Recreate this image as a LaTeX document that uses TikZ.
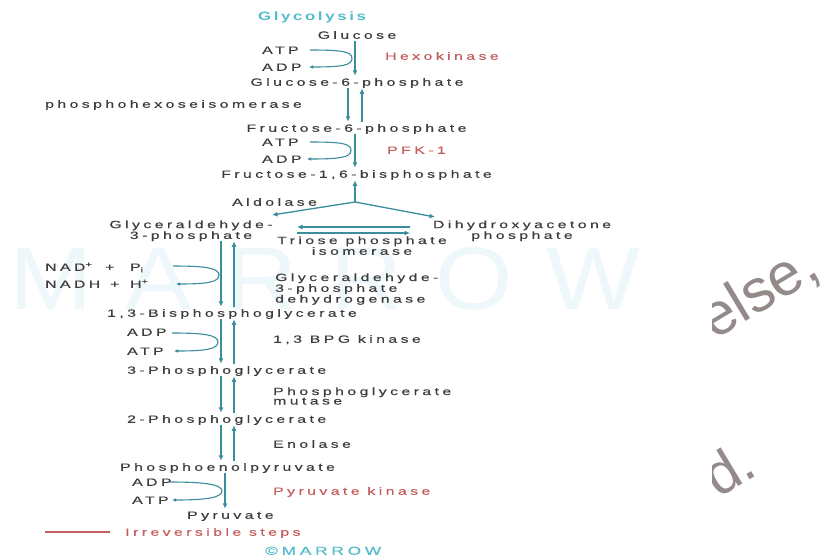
\documentclass[tikz,border=0pt]{standalone}
\usepackage{fontspec}
\usepackage{graphicx}
\setmainfont{Liberation Sans}[FakeStretch=1.5,LetterSpace=33,FakeBold=0.4]
\newfontfamily\titlefont{Liberation Sans}[FakeStretch=1.4,LetterSpace=22]
\newfontfamily\markfont{Liberation Sans}[FakeStretch=1.2,LetterSpace=40]
\newfontfamily\stampfont{Liberation Sans}
\usetikzlibrary{arrows.meta}
\definecolor{pathway}{HTML}{3A8D9B}
\definecolor{titleteal}{HTML}{55BCCB}
\definecolor{enzred}{HTML}{C45E5E}
\definecolor{ink}{HTML}{3D3D3D}
\definecolor{wm}{HTML}{EEF7FA}
\definecolor{stamp}{HTML}{958A8A}

\begin{document}
\begin{tikzpicture}[x=1pt,y=-1pt,
  every node/.style={inner sep=0pt},
  met/.style={text=ink,font=\fontsize{10.5}{10}\selectfont,
    text height=7.5pt,text depth=0pt,inner ysep=2.3pt},
  multi/.style={text=ink,font=\fontsize{10.5}{9.5}\selectfont,align=center},
  multil/.style={text=ink,font=\fontsize{10.5}{9.5}\selectfont,align=left},
  irrev/.style={met,text=enzred},
  flow/.style={draw=pathway,line width=1.8pt,-{Latex[length=5.5pt,width=5pt]}},
  thinflow/.style={flow,line width=1.3pt},
  cofac/.style={draw=pathway,line width=1.1pt,-{Latex[length=4pt,width=3.6pt]}},
]
\useasboundingbox[fill=white] (0,0) rectangle (833,557);

% faint background watermark
\node[text=wm] (wmark) at (325,279) {\resizebox{630pt}{62pt}{\markfont MARROW}};

% rotated stamp fragments at the right edge
\begin{scope}
  \clip (712,140) rectangle (833,557);
  \node[text=stamp,anchor=base west,rotate=31,font=\stampfont\fontsize{60}{60}\selectfont] (stampA) at (714,341) {else,};
  \node[text=stamp,anchor=base west,rotate=31,font=\stampfont\fontsize{58}{58}\selectfont] (stampB) at (718,499) {d.};
\end{scope}

% title
\node[text=titleteal,font=\titlefont\bfseries\fontsize{12}{12}\selectfont,
  text height=8.5pt,text depth=0pt] (title) at (312,16) {Glycolysis};

% metabolites of the upper (hexose) part
\node[met] (glc)   at (357,35)  {Glucose};
\node[met] (g6p)   at (357,82)    {Glucose-6-phosphate};
\node[met] (f6p)   at (356.5,128)   {Fructose-6-phosphate};
\node[met] (f16bp) at (356.5,174)   {Fructose-1,6-bisphosphate};

\node[met,anchor=west] (atp1) at (262,50)  {ATP};
\node[met,anchor=west] (adp1) at (262,67)  {ADP};
\node[irrev,anchor=west] (hk) at (385,56)  {Hexokinase};
\node[met,anchor=west] (phi)  at (45,104)  {phosphohexoseisomerase};
\node[met,anchor=west] (atp2) at (262,142) {ATP};
\node[met,anchor=west] (adp2) at (262,159) {ADP};
\node[irrev,anchor=west] (pfk) at (387,150) {PFK-1};
\node[met,anchor=west] (aldo) at (232,202) {Aldolase};

% triose phosphates
\node[multi,anchor=north] (g3p)  at (191,220.3) {Glyceraldehyde-\\3-phosphate};
\node[multi,anchor=north] (dhap) at (522,220.3) {Dihydroxyacetone\\phosphate};
\node[multi,anchor=north] (tpi)  at (362,236.2) {Triose phosphate\\isomerase};

% lower (triose) part
\node[met,anchor=west] (nad)  at (45,267) {\makebox[60pt][l]{NAD\textsuperscript{+}}\makebox[25pt][l]{+}P\textsubscript{i}};
\node[met,anchor=west] (nadh) at (45,284) {\makebox[65pt][l]{NADH}\makebox[20pt][l]{+}H\textsuperscript{+}};
\node[multil,anchor=north west] (gapdh) at (275,273.2) {Glyceraldehyde-\\3-phosphate\\dehydrogenase};
\node[met,anchor=west] (bpg)  at (107,313) {1,3-Bisphosphoglycerate};
\node[met,anchor=west] (adp3) at (127,332) {ADP};
\node[met,anchor=west] (atp3) at (127,351) {ATP};
\node[met,anchor=west] (pgk)  at (273,339) {1,3 BPG kinase};
\node[met,anchor=west] (pg3)  at (127,370) {3-Phosphoglycerate};
\node[multil,anchor=north west] (pgm) at (273,387.2) {Phosphoglycerate\\mutase};
\node[met,anchor=west] (pg2)  at (127,419) {2-Phosphoglycerate};
\node[met,anchor=west] (eno)  at (273,444) {Enolase};
\node[met,anchor=west] (pep)  at (120,467) {Phosphoenolpyruvate};
\node[met,anchor=west] (adp4) at (132,482) {ADP};
\node[met,anchor=west] (atp4) at (132,500) {ATP};
\node[irrev,anchor=west] (pk) at (273,491) {Pyruvate kinase};
\node[met,anchor=west] (pyr)  at (187,515) {Pyruvate};

% legend and credit
\coordinate (legA) at (45,532);
\coordinate (legB) at (110,532);
\draw[enzred,line width=1.5pt] (legA) -- (legB);
\node[irrev,anchor=west] (irr) at (125,532) {Irreversible steps};
\node[met,anchor=west,text=titleteal,font=\fontsize{11.5}{11}\selectfont] (credit) at (265,551) {\textcopyright MARROW};

% vertical axes of the arrows
\coordinate (axT)  at (355,0);
\coordinate (axTd) at (348,0);
\coordinate (axTu) at (362,0);
\coordinate (axLd) at (221,0);
\coordinate (axLu) at (234,0);
\coordinate (axP)  at (225,0);

% hexose steps
\draw[flow] (glc.south -| axT) -- (g6p.north -| axT);
\draw[flow] (g6p.south -| axTd) -- (f6p.north -| axTd);
\draw[flow] (f6p.north -| axTu) -- (g6p.south -| axTu);
\draw[flow] (f6p.south -| axT) -- (f16bp.north -| axT);

% aldolase split
\coordinate (ald)  at (355,202);
\coordinate (aldL) at (272,215);
\coordinate (aldR) at (435,217);
\draw[flow] (ald) -- (f16bp.south -| ald);
\draw[thinflow] (ald) -- (aldL);
\draw[thinflow] (ald) -- (aldR);

% triose phosphate isomerase
\coordinate (tpiA) at (297,227);
\coordinate (tpiB) at (410,227);
\coordinate (tpiC) at (297,233);
\coordinate (tpiD) at (410,233);
\draw[thinflow] (tpiB) -- (tpiA);
\draw[thinflow] (tpiC) -- (tpiD);

% triose steps
\draw[flow] (g3p.south -| axLd) -- (bpg.north -| axLd);
\draw[flow] (bpg.north -| axLu) -- (g3p.south -| axLu);
\draw[flow] (bpg.south -| axLd) -- (pg3.north -| axLd);
\draw[flow] (pg3.north -| axLu) -- (bpg.south -| axLu);
\draw[flow] (pg3.south -| axLd) -- (pg2.north -| axLd);
\draw[flow] (pg2.north -| axLu) -- (pg3.south -| axLu);
\draw[flow] (pg2.south -| axLd) -- (pep.north -| axLd);
\draw[flow] (pep.north -| axLu) -- (pg2.south -| axLu);
\draw[flow] (pep.south -| axP) -- (pyr.north -| axP);

% cofactor loops
\coordinate (c1s) at (310,50);  \coordinate (c1b) at (352,58.5); \coordinate (c1e) at (309,67);
\coordinate (c2s) at (310,142); \coordinate (c2b) at (351,150.5); \coordinate (c2e) at (307,159);
\coordinate (c3s) at (173,266); \coordinate (c3b) at (219,275);  \coordinate (c3e) at (176,284);
\coordinate (c4s) at (172,333); \coordinate (c4b) at (218,342);  \coordinate (c4e) at (174,351);
\coordinate (c5s) at (170,482); \coordinate (c5b) at (222,491);  \coordinate (c5e) at (172,500);
\foreach \c in {c1,c2,c3,c4,c5}{
  \draw[cofac] (\c s) .. controls +(32,0) and +(0,-7) .. (\c b)
               .. controls +(0,7) and +(32,0) .. (\c e);
}
\end{tikzpicture}
\end{document}
